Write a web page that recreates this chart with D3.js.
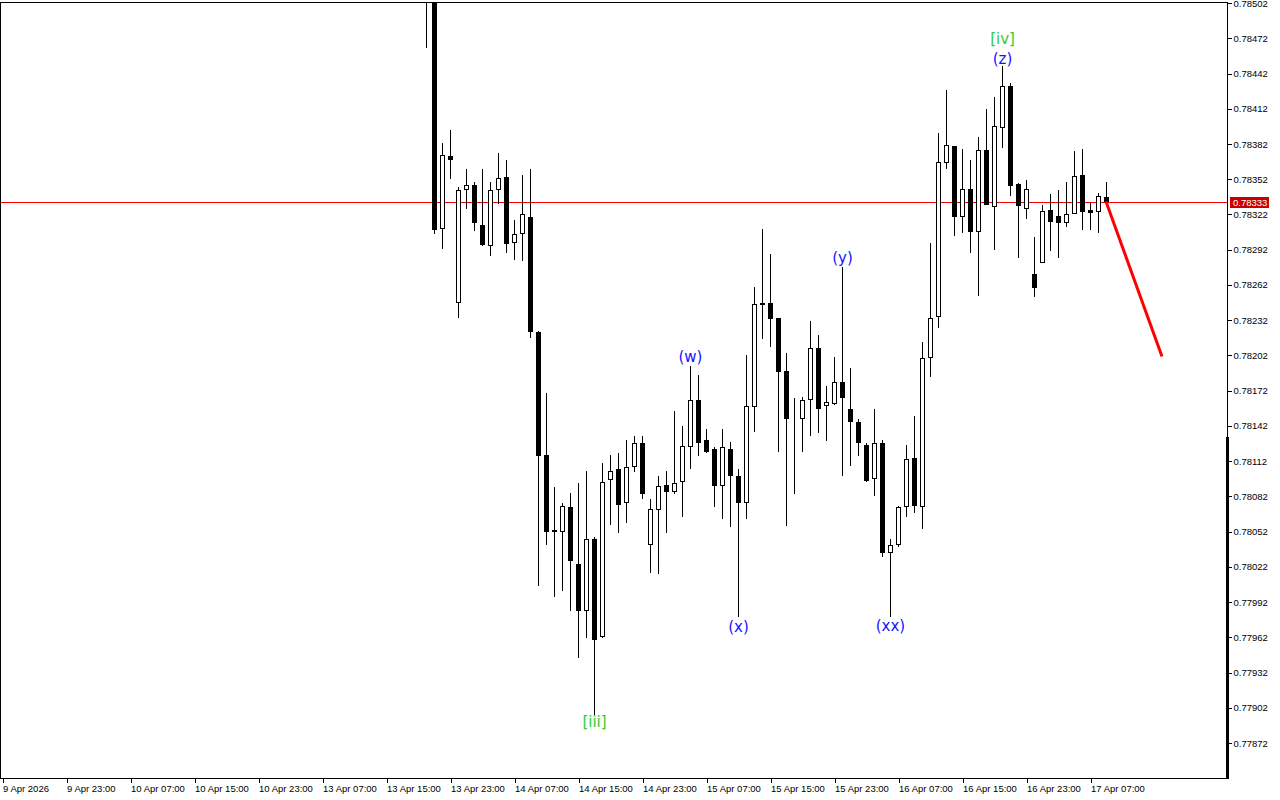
<!DOCTYPE html>
<html>
<head>
<meta charset="utf-8">
<script src="https://cdnjs.cloudflare.com/ajax/libs/d3/7.8.5/d3.min.js"></script>
<style>
  body { margin: 0; background: #fff; }
  .axis text { font-family: "Liberation Sans", Arial, sans-serif; font-size: 9.5px; fill: #000; }
  .axis path, .axis line { stroke: #000; shape-rendering: crispEdges; }
  .wave { font-family: "DejaVu Sans", Verdana, sans-serif; font-size: 15px; text-anchor: middle; }
</style>
</head>
<body>
<script>
var width = 1280, height = 800;
var plot = {left: 0, top: 2, right: 1227, bottom: 778};

// hourly candles, index 0 = 13 Apr 20:00
var open  = [0.78540,0.78520,0.78310,0.78372,0.78247,0.78343,0.78347,0.78313,0.78295,0.78343,
             0.78354,0.78298,0.78305,0.78320,0.78222,0.78117,0.78053,0.78052,0.78073,0.78024,
             0.77984,0.78046,0.77962,0.78096,0.78105,0.78076,0.78107,0.78127,0.78041,0.78070,
             0.78092,0.78086,0.78094,0.78124,0.78164,0.78130,0.78122,0.78091,0.78122,0.78099,
             0.78076,0.78158,0.78245,0.78247,0.78234,0.78189,0.78149,0.78148,0.78164,0.78208,
             0.78159,0.78161,0.78179,0.78156,0.78145,0.78126,0.78097,0.78127,0.78034,0.78041,
             0.78073,0.78115,0.78073,0.78200,0.78235,0.78366,0.78380,0.78320,0.78344,0.78307,
             0.78377,0.78328,0.78396,0.78431,0.78348,0.78327,0.78271,0.78281,0.78326,0.78321,
             0.78315,0.78322,0.78356,0.78326,0.78324,0.78337];
var high  = [0.78555,0.78525,0.78383,0.78394,0.78345,0.78361,0.78350,0.78361,0.78350,0.78374,
             0.78368,0.78317,0.78356,0.78361,0.78223,0.78170,0.78090,0.78076,0.78085,0.78093,
             0.78104,0.78047,0.78110,0.78117,0.78119,0.78130,0.78133,0.78133,0.78080,0.78099,
             0.78104,0.78155,0.78142,0.78193,0.78185,0.78139,0.78124,0.78139,0.78128,0.78105,
             0.78202,0.78260,0.78310,0.78288,0.78234,0.78204,0.78166,0.78167,0.78231,0.78219,
             0.78176,0.78201,0.78277,0.78191,0.78148,0.78127,0.78156,0.78130,0.78046,0.78074,
             0.78126,0.78150,0.78213,0.78298,0.78391,0.78428,0.78380,0.78378,0.78368,0.78388,
             0.78412,0.78422,0.78448,0.78434,0.78349,0.78351,0.78303,0.78330,0.78339,0.78343,
             0.78350,0.78376,0.78378,0.78332,0.78340,0.78350];
var low   = [0.78464,0.78305,0.78293,0.78352,0.78234,0.78327,0.78308,0.78295,0.78287,0.78331,
             0.78289,0.78283,0.78282,0.78217,0.78006,0.78041,0.77996,0.78001,0.77984,0.77944,
             0.77961,0.77896,0.77961,0.78058,0.78051,0.78059,0.78103,0.78080,0.78017,0.78016,
             0.78051,0.78084,0.78064,0.78105,0.78116,0.78119,0.78073,0.78063,0.78056,0.77979,
             0.78063,0.78137,0.78216,0.78209,0.78120,0.78057,0.78084,0.78120,0.78133,0.78136,
             0.78129,0.78160,0.78099,0.78108,0.78116,0.78094,0.78082,0.78030,0.77979,0.78039,
             0.78064,0.78068,0.78054,0.78184,0.78225,0.78361,0.78304,0.78306,0.78289,0.78253,
             0.78330,0.78292,0.78379,0.78338,0.78285,0.78318,0.78252,0.78281,0.78291,0.78285,
             0.78311,0.78322,0.78309,0.78309,0.78306,0.78333];
var close = [0.78520,0.78309,0.78373,0.78368,0.78343,0.78347,0.78315,0.78296,0.78343,0.78353,
             0.78297,0.78305,0.78322,0.78222,0.78116,0.78052,0.78052,0.78074,0.78027,0.77984,
             0.78046,0.77960,0.78094,0.78104,0.78075,0.78107,0.78127,0.78084,0.78071,0.78091,
             0.78086,0.78093,0.78125,0.78164,0.78127,0.78120,0.78091,0.78124,0.78099,0.78076,
             0.78159,0.78246,0.78247,0.78233,0.78188,0.78148,0.78148,0.78164,0.78208,0.78156,
             0.78162,0.78179,0.78166,0.78145,0.78127,0.78095,0.78127,0.78034,0.78041,0.78073,
             0.78114,0.78074,0.78200,0.78234,0.78367,0.78381,0.78320,0.78344,0.78307,0.78377,
             0.78330,0.78397,0.78431,0.78346,0.78329,0.78344,0.78259,0.78325,0.78316,0.78315,
             0.78322,0.78355,0.78324,0.78323,0.78338,0.78333];

var bid = 0.78333;

// price axis ticks
var priceTicks = [0.78502,0.78472,0.78442,0.78412,0.78382,0.78352,0.78322,0.78292,0.78262,0.78232,0.78202,
                  0.78172,0.78142,0.78112,0.78082,0.78052,0.78022,0.77992,0.77962,0.77932,0.77902,0.77872];

// time axis labels, one every 8 bars (first one at bar -53)
var timeLabels = ["9 Apr 2026","9 Apr 23:00","10 Apr 07:00","10 Apr 15:00","10 Apr 23:00","13 Apr 07:00",
                  "13 Apr 15:00","13 Apr 23:00","14 Apr 07:00","14 Apr 15:00","14 Apr 23:00","15 Apr 07:00",
                  "15 Apr 15:00","15 Apr 23:00","16 Apr 07:00","16 Apr 15:00","16 Apr 23:00","17 Apr 07:00"];
var timeIndex = timeLabels.map(function(d, i){ return -53 + 8 * i; });

// wave labels
var waveText  = ["[iii]", "(w)", "(x)", "(y)", "(xx)", "[iv]", "(z)"];
var waveBar   = [21, 33, 39, 52, 58, 72, 72];
var wavePrice = [0.77890, 0.78201, 0.77971, 0.78285, 0.77972, 0.78472, 0.78455];
var waveColor = ["#33cc33", "#1414ff", "#1414ff", "#1414ff", "#1414ff", "#33cc33", "#1414ff"];

// projected move
var projBar   = [85, 92];
var projPrice = [0.78333, 0.78201];

var svg = d3.select("body")
            .append("svg")
            .attr("width", width)
            .attr("height", height);

//Scales
var xScale = d3.scaleLinear()
               .domain([-53, 85])
               .range([2, 1106]);

var yScale = d3.scaleLinear()
               .domain([0.778422, 0.785046])
               .range([778, 0]);

svg.append("clipPath").attr("id", "plotclip")
   .append("rect")
   .attr("x", plot.left).attr("y", plot.top)
   .attr("width", plot.right - plot.left).attr("height", plot.bottom - plot.top);

var chart = svg.append("g").attr("clip-path", "url(#plotclip)");

//Bid line
var bidY = Math.round(yScale(bid)) + 0.5;
chart.append("line")
     .attr("x1", 0).attr("x2", plot.right)
     .attr("y1", bidY).attr("y2", bidY)
     .attr("stroke", "#ff0000")
     .attr("stroke-width", 1);

//Candles
var bars = d3.range(open.length).map(function(i){
  return {i: i, o: open[i], h: high[i], l: low[i], c: close[i]};
});

var candle = chart.selectAll("g.candle")
                  .data(bars)
                  .enter()
                  .append("g")
                  .attr("class", "candle")
                  .attr("shape-rendering", "crispEdges");

candle.append("line")
      .attr("x1", function(d){ return Math.round(xScale(d.i)) + 0.5; })
      .attr("x2", function(d){ return Math.round(xScale(d.i)) + 0.5; })
      .attr("y1", function(d){ return Math.round(yScale(d.h)); })
      .attr("y2", function(d){ return Math.round(yScale(d.l)); })
      .attr("stroke", "#000");

candle.append("rect")
      .attr("x", function(d){ return Math.round(xScale(d.i)) - 1.5; })
      .attr("y", function(d){ return Math.round(yScale(Math.max(d.o, d.c))) + 0.5; })
      .attr("width", 4)
      .attr("height", function(d){
        return Math.max(0, Math.round(yScale(Math.min(d.o, d.c))) - Math.round(yScale(Math.max(d.o, d.c))) - 1);
      })
      .attr("fill", function(d){ return d.c >= d.o ? "#fff" : "#000"; })
      .attr("stroke", "#000");

//Projection line
chart.append("line")
     .attr("x1", xScale(projBar[0])).attr("y1", yScale(projPrice[0]))
     .attr("x2", xScale(projBar[1])).attr("y2", yScale(projPrice[1]))
     .attr("stroke", "#ff0000")
     .attr("stroke-width", 3);

//Wave labels
chart.selectAll("text.wave")
     .data(waveText)
     .enter()
     .append("text")
     .attr("class", "wave")
     .attr("x", function(d, i){ return xScale(waveBar[i]) + 0.5; })
     .attr("y", function(d, i){ return yScale(wavePrice[i]); })
     .attr("dy", "0.36em")
     .attr("fill", function(d, i){ return waveColor[i]; })
     .text(function(d){ return d; });

//Frame
svg.append("rect")
   .attr("x", 0.5).attr("y", plot.top + 0.5)
   .attr("width", plot.right - 0.5).attr("height", plot.bottom - plot.top)
   .attr("fill", "none")
   .attr("stroke", "#000")
   .attr("shape-rendering", "crispEdges");

//Y axis
var yAxis = d3.axisRight(yScale)
              .tickValues(priceTicks)
              .tickSize(4)
              .tickPadding(2)
              .tickFormat(d3.format(".5f"));

svg.append("g")
   .attr("class", "axis")
   .attr("transform", "translate(" + (plot.right + 0.5) + ",0)")
   .call(yAxis)
   .call(function(g){ g.select(".domain").remove(); });

//right edge line
svg.append("line")
   .attr("x1", plot.right + 0.5).attr("x2", plot.right + 0.5)
   .attr("y1", plot.top).attr("y2", plot.bottom + 1)
   .attr("stroke", "#000")
   .attr("shape-rendering", "crispEdges");

svg.append("rect")
   .attr("x", plot.right - 1).attr("y", 437)
   .attr("width", 3).attr("height", plot.bottom + 1 - 437)
   .attr("fill", "#000");

//Bid label
svg.append("rect")
   .attr("x", 1230).attr("y", bidY - 5.5)
   .attr("width", 39).attr("height", 11)
   .attr("fill", "#c80000");

svg.append("text")
   .attr("x", 1233).attr("y", bidY)
   .attr("dy", "0.33em")
   .attr("fill", "#fff")
   .style("font-family", "Liberation Sans, Arial, sans-serif")
   .style("font-size", "9.5px")
   .text(d3.format(".5f")(bid));

//X axis
var xAxis = d3.axisBottom(xScale)
              .tickValues(timeIndex)
              .tickSize(4)
              .tickPadding(3)
              .tickFormat(function(d, i){ return timeLabels[i]; });

var xg = svg.append("g")
            .attr("class", "axis")
            .attr("transform", "translate(0.5," + (plot.bottom + 0.5) + ")")
            .call(xAxis);

xg.select(".domain").remove();
xg.selectAll(".tick text")
  .attr("text-anchor", "start")
  .attr("x", 0);
</script>
</body>
</html>
